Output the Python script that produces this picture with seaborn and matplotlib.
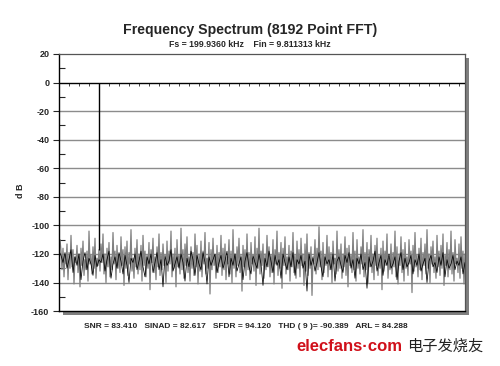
import numpy as np
import pandas as pd
import matplotlib
matplotlib.use('Agg')
import matplotlib.pyplot as plt
import seaborn as sns
from matplotlib.ticker import MultipleLocator
from matplotlib.patches import Rectangle

# noise floor, one value per screen column (dB)
noise_gray = [
    -110, -110, -118, -131, -116, -136, -121, -127, -113, -138, -119, -130, -107, -129, -117, -141, -122, -126, -114, -133,
    -120, -143, -116, -128, -111, -135, -124, -131, -118, -139, -104, -127, -121, -134, -115, -130, -109, -137, -123, -128,
    -117, -132, -113, -126, -106, -134, -120, -140, -116, -129, -112, -136, -122, -131, -105, -127, -118, -138, -114, -130,
    -121, -133, -108, -128, -117, -142, -115, -130, -111, -135, -119, -127, -103, -132, -123, -137, -116, -129, -110, -134,
    -120, -131, -114, -139, -107, -128, -118, -136, -121, -130, -112, -145, -117, -126, -109, -133, -122, -138, -115, -129,
    -106, -135, -119, -131, -113, -128, -124, -140, -111, -132, -118, -127, -104, -136, -120, -130, -116, -143, -110, -129,
    -121, -134, -102, -131, -117, -137, -113, -128, -108, -133, -122, -139, -115, -130, -119, -135, -106, -129, -114, -141,
    -120, -132, -111, -136, -118, -127, -105, -134, -123, -130, -112, -148, -117, -131, -109, -128, -121, -137, -114, -133,
    -119, -129, -107, -135, -116, -131, -113, -138, -122, -127, -110, -134, -118, -140, -103, -130, -120, -136, -115, -128,
    -109, -133, -121, -146, -114, -129, -117, -135, -106, -131, -119, -138, -112, -127, -123, -132, -108, -142, -116, -130,
    -102, -134, -118, -128, -113, -137, -120, -131, -107, -129, -115, -136, -121, -133, -110, -141, -117, -127, -104, -135,
    -119, -130, -112, -144, -116, -128, -108, -134, -122, -131, -114, -139, -118, -129, -105, -133, -121, -137, -111, -130,
    -117, -136, -109, -128, -120, -142, -113, -132, -106, -135, -119, -130, -115, -149, -122, -127, -110, -134, -116, -131,
    -101, -129, -118, -138, -112, -133, -121, -128, -107, -136, -115, -131, -119, -140, -111, -127, -123, -134, -104, -132,
    -117, -130, -113, -137, -120, -129, -108, -135, -116, -143, -114, -128, -121, -133, -105, -131, -118, -139, -110, -130,
    -122, -134, -115, -127, -103, -136, -119, -131, -112, -140, -117, -129, -107, -133, -120, -138, -114, -128, -109, -135,
    -121, -130, -116, -145, -111, -132, -118, -128, -106, -137, -123, -131, -113, -134, -119, -129, -104, -136, -115, -141,
    -120, -128, -108, -133, -117, -139, -112, -130, -122, -135, -110, -127, -118, -147, -114, -132, -105, -129, -121, -136,
    -116, -131, -109, -138, -119, -128, -113, -134, -103, -130, -120, -140, -115, -127, -111, -133, -122, -137, -107, -129,
    -118, -135, -114, -130, -106, -142, -121, -128, -112, -136, -117, -131, -104, -134, -119, -139, -110, -127, -123, -133,
    -113, -137, -108, -130, -118, -141, -120,
]

# darker trace on every second column
noise_black = [
    -118, -121, -126, -119, -130, -124, -117, -133, -122, -128, -120, -138, -125, -119, -131, -123, -127, -135, -121, -129,
    -124, -126, -120, -132, -124, -118, -137, -127, -122, -130, -119, -125, -134, -121, -128, -140, -123, -126, -120, -131,
    -125, -118, -129, -136, -122, -127, -120, -133, -126, -119, -131, -124, -143, -121, -128, -125, -117, -132, -127, -122,
    -130, -120, -126, -139, -123, -129, -118, -124, -135, -121, -127, -131, -119, -126, -141, -122, -128, -124, -120, -133,
    -126, -121, -130, -125, -118, -136, -123, -128, -120, -132, -127, -122, -138, -125, -119, -129, -134, -121, -126, -130,
    -120, -127, -142, -123, -129, -118, -125, -133, -121, -128, -124, -137, -120, -126, -131, -122, -129, -119, -135, -124,
    -127, -121, -130, -125, -146, -120, -128, -123, -132, -126, -119, -129, -136, -122, -127, -124, -131, -120, -139, -125,
    -122, -128, -133, -121, -126, -119, -130, -124, -137, -123, -127, -120, -131, -126, -144, -122, -129, -125, -118, -132,
    -126, -121, -135, -124, -128, -120, -130, -127, -122, -138, -125, -119, -131, -123, -129, -126, -121, -134, -124, -128,
    -120, -132, -127, -123, -140, -125, -121, -129, -126, -133, -122, -128, -119, -136, -124, -130, -127, -121, -131, -125,
    -128, -122, -134, -126,
]

# fundamental (Fin = 9.81 kHz)
fund_bin = 40
fund_db = 0

y_ticks = [20, 0, -20, -40, -60, -80, -100, -120, -140, -160]
grid_levels = [-20, -40, -60, -80, -100, -120, -140]
title = 'Frequency Spectrum (8192 Point FFT)'
subtitle = 'Fs = 199.9360 kHz    Fin = 9.811313 kHz'
stats = ['SNR = 83.410', 'SINAD = 82.617', 'SFDR = 94.120', 'THD ( 9 )= -90.389', 'ARL = 84.288']

gray_df = pd.DataFrame({'bin': np.arange(len(noise_gray)), 'dB': noise_gray})
black_df = pd.DataFrame({'bin': np.arange(len(noise_black)) * 2, 'dB': noise_black})

sns.set_style('white')
plt.rcParams['font.family'] = ['Liberation Sans', 'DejaVu Sans']
plt.rcParams['font.weight'] = 'bold'
plt.rcParams['axes.unicode_minus'] = False

fig = plt.figure(figsize=(5, 3.66), dpi=100)
ax = fig.add_axes([0.118, 0.150, 0.812, 0.7025])

# drop shadow behind the plot box
pos = ax.get_position()
fig.patches.append(Rectangle((pos.x0 + 4 / 500, pos.y0 - 4 / 366), pos.width, pos.height,
                             transform=fig.transFigure, facecolor='#7f7f7f', edgecolor='none', zorder=0))
ax.set_zorder(1)
ax.set_facecolor('white')

for lv in grid_levels:
    ax.axhline(lv, color='#8c8c8c', lw=1.0, zorder=1)

sns.lineplot(data=gray_df, x='bin', y='dB', ax=ax, color='#808080', lw=0.9, estimator=None, zorder=2)
sns.lineplot(data=black_df, x='bin', y='dB', ax=ax, color='black', lw=0.55, estimator=None, zorder=3)
ax.vlines(fund_bin, noise_gray[fund_bin], fund_db, color='black', lw=1.0, zorder=3)

ax.axhline(0, color='black', lw=1.0, zorder=4)

ax.set_xlim(0, len(noise_gray) - 1)
ax.set_ylim(-160, 20)
ax.set_xticks([])
ax.set_yticks(y_ticks)
ax.yaxis.set_minor_locator(MultipleLocator(10))
ax.tick_params(axis='y', which='major', direction='out', length=4, width=0.8, labelsize=6.5, pad=3, left=True)
ax.tick_params(axis='y', which='minor', direction='in', length=4, width=0.8, left=True)
for lab in ax.get_yticklabels():
    lab.set_fontweight('bold')
ax.set_xlabel('')
ax.set_ylabel('d B', fontsize=6.5, fontweight='bold')
ax.yaxis.set_label_coords(-0.083, 0.47)

# small ticks hanging below the 0 dB reference line
sec = ax.secondary_xaxis(160 / 180)
sec.xaxis.set_major_locator(MultipleLocator(10))
sec.tick_params(direction='out', length=2, width=0.6, labelbottom=False, labeltop=False, bottom=True, top=False)
sec.spines['bottom'].set_visible(False)
sec.spines['top'].set_visible(False)

for s in ['left', 'bottom']:
    ax.spines[s].set_color('black')
    ax.spines[s].set_linewidth(1.0)
for s in ['top', 'right']:
    ax.spines[s].set_color('#555555')
    ax.spines[s].set_linewidth(0.9)

fig.text(0.5, 0.918, title, ha='center', va='center', fontsize=10.2, fontweight='bold')
fig.text(0.5, 0.879, subtitle, ha='center', va='center', fontsize=6.3, fontweight='bold')
fig.text(0.492, 0.108, '   '.join(stats), ha='center', va='center', fontsize=6, fontweight='bold')

fig.text(0.592, 0.054, 'elecfans·com', ha='left', va='center', fontsize=12, color='#d0101a')
fig.text(0.815, 0.054, '电子发烧友', ha='left', va='center', fontsize=11, color='#222222',
         family=['Noto Sans CJK SC', 'DejaVu Sans'], fontweight='normal')

fig.savefig('out.png', dpi=100)
